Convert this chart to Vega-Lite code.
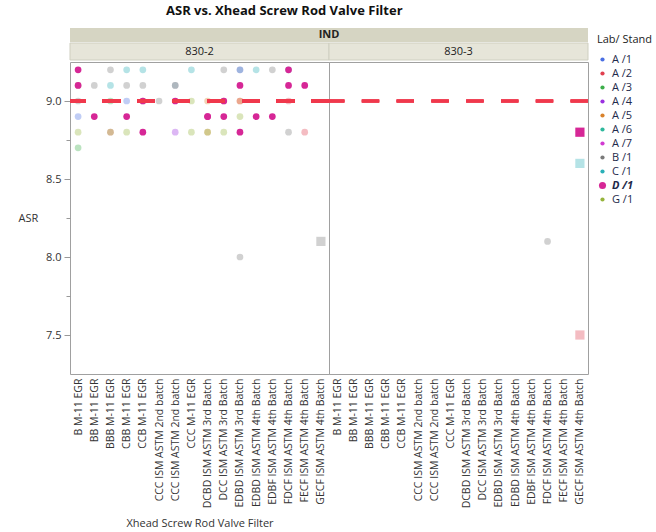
{
  "$schema": "https://vega.github.io/schema/vega-lite/v6.json",
  "padding": {"left": 17, "top": 5, "right": 2, "bottom": 5},
  "config": {
    "font": "Open Sans",
    "view": {"stroke": "#a0a0a0"},
    "axis": {"labelColor": "#333333", "titleColor": "#333333", "labelFontSize": 10.5, "titleFontSize": 11, "titleFontWeight": "normal"}
  },
  "title": {"text": "ASR vs. Xhead Screw Rod Valve Filter", "anchor": "start", "frame": "group", "dx": 96, "fontSize": 13, "fontWeight": "bold", "color": "#111111", "offset": 10},
  "datasets": {
    "asr": [
      {"Engine": "830-2", "Filter": "B  M-11 EGR", "Lab": "G /1", "ASR": 9.1},
      {"Engine": "830-2", "Filter": "B  M-11 EGR", "Lab": "B /1", "ASR": 9.0},
      {"Engine": "830-2", "Filter": "B  M-11 EGR", "Lab": "A /1", "ASR": 8.9},
      {"Engine": "830-2", "Filter": "B  M-11 EGR", "Lab": "G /1", "ASR": 8.8},
      {"Engine": "830-2", "Filter": "B  M-11 EGR", "Lab": "A /3", "ASR": 8.7},
      {"Engine": "830-2", "Filter": "BB  M-11 EGR", "Lab": "B /1", "ASR": 9.1},
      {"Engine": "830-2", "Filter": "BBB M-11 EGR", "Lab": "B /1", "ASR": 9.2},
      {"Engine": "830-2", "Filter": "BBB M-11 EGR", "Lab": "C /1", "ASR": 9.1},
      {"Engine": "830-2", "Filter": "BBB M-11 EGR", "Lab": "A /3", "ASR": 9.0},
      {"Engine": "830-2", "Filter": "BBB M-11 EGR", "Lab": "A /2", "ASR": 8.8},
      {"Engine": "830-2", "Filter": "BBB M-11 EGR", "Lab": "G /1", "ASR": 8.8},
      {"Engine": "830-2", "Filter": "CBB M-11 EGR", "Lab": "C /1", "ASR": 9.2},
      {"Engine": "830-2", "Filter": "CBB M-11 EGR", "Lab": "B /1", "ASR": 9.1},
      {"Engine": "830-2", "Filter": "CBB M-11 EGR", "Lab": "A /1", "ASR": 9.0},
      {"Engine": "830-2", "Filter": "CBB M-11 EGR", "Lab": "G /1", "ASR": 8.8},
      {"Engine": "830-2", "Filter": "CCB M-11 EGR", "Lab": "C /1", "ASR": 9.2},
      {"Engine": "830-2", "Filter": "CCB M-11 EGR", "Lab": "B /1", "ASR": 9.1},
      {"Engine": "830-2", "Filter": "CCB M-11 EGR", "Lab": "G /1", "ASR": 9.0},
      {"Engine": "830-2", "Filter": "CCC  ISM ASTM 2nd batch", "Lab": "B /1", "ASR": 9.0},
      {"Engine": "830-2", "Filter": "CCC ISM ASTM 2nd batch", "Lab": "A /2", "ASR": 9.1},
      {"Engine": "830-2", "Filter": "CCC ISM ASTM 2nd batch", "Lab": "C /1", "ASR": 9.1},
      {"Engine": "830-2", "Filter": "CCC ISM ASTM 2nd batch", "Lab": "A /4", "ASR": 8.8},
      {"Engine": "830-2", "Filter": "CCC M-11 EGR", "Lab": "C /1", "ASR": 9.2},
      {"Engine": "830-2", "Filter": "CCC M-11 EGR", "Lab": "G /1", "ASR": 9.0},
      {"Engine": "830-2", "Filter": "CCC M-11 EGR", "Lab": "G /1", "ASR": 8.8},
      {"Engine": "830-2", "Filter": "DCBD ISM ASTM 3rd Batch", "Lab": "A /5", "ASR": 9.0},
      {"Engine": "830-2", "Filter": "DCBD ISM ASTM 3rd Batch", "Lab": "A /5", "ASR": 8.8},
      {"Engine": "830-2", "Filter": "DCBD ISM ASTM 3rd Batch", "Lab": "G /1", "ASR": 8.8},
      {"Engine": "830-2", "Filter": "DCC ISM ASTM 3rd Batch", "Lab": "B /1", "ASR": 9.2},
      {"Engine": "830-2", "Filter": "DCC ISM ASTM 3rd Batch", "Lab": "A /5", "ASR": 9.0},
      {"Engine": "830-2", "Filter": "DCC ISM ASTM 3rd Batch", "Lab": "G /1", "ASR": 8.8},
      {"Engine": "830-2", "Filter": "EDBD ISM ASTM 3rd Batch", "Lab": "A /4", "ASR": 9.2},
      {"Engine": "830-2", "Filter": "EDBD ISM ASTM 3rd Batch", "Lab": "C /1", "ASR": 9.2},
      {"Engine": "830-2", "Filter": "EDBD ISM ASTM 3rd Batch", "Lab": "A /2", "ASR": 9.0},
      {"Engine": "830-2", "Filter": "EDBD ISM ASTM 3rd Batch", "Lab": "A /5", "ASR": 9.0},
      {"Engine": "830-2", "Filter": "EDBD ISM ASTM 3rd Batch", "Lab": "G /1", "ASR": 8.9},
      {"Engine": "830-2", "Filter": "EDBD ISM ASTM 3rd Batch", "Lab": "B /1", "ASR": 8.0},
      {"Engine": "830-2", "Filter": "EDBD ISM ASTM 4th Batch", "Lab": "C /1", "ASR": 9.2},
      {"Engine": "830-2", "Filter": "EDBF ISM ASTM 4th Batch", "Lab": "B /1", "ASR": 9.2},
      {"Engine": "830-2", "Filter": "FDCF ISM ASTM 4th Batch", "Lab": "C /1", "ASR": 9.2},
      {"Engine": "830-2", "Filter": "FDCF ISM ASTM 4th Batch", "Lab": "A /2", "ASR": 9.0},
      {"Engine": "830-2", "Filter": "FDCF ISM ASTM 4th Batch", "Lab": "B /1", "ASR": 8.8},
      {"Engine": "830-2", "Filter": "FECF ISM ASTM 4th Batch", "Lab": "A /2", "ASR": 8.8},
      {"Engine": "830-2", "Filter": "GECF ISM ASTM 4th Batch", "Lab": "B /1", "ASR": 8.1},
      {"Engine": "830-3", "Filter": "FDCF ISM ASTM 4th Batch", "Lab": "B /1", "ASR": 8.1},
      {"Engine": "830-3", "Filter": "GECF ISM ASTM 4th Batch", "Lab": "C /1", "ASR": 8.6},
      {"Engine": "830-3", "Filter": "GECF ISM ASTM 4th Batch", "Lab": "A /2", "ASR": 7.5},
      {"Engine": "830-2", "Filter": "B  M-11 EGR", "Lab": "D /1", "ASR": 9.2},
      {"Engine": "830-2", "Filter": "B  M-11 EGR", "Lab": "D /1", "ASR": 9.1},
      {"Engine": "830-2", "Filter": "BB  M-11 EGR", "Lab": "D /1", "ASR": 8.9},
      {"Engine": "830-2", "Filter": "CBB M-11 EGR", "Lab": "D /1", "ASR": 8.9},
      {"Engine": "830-2", "Filter": "CCB M-11 EGR", "Lab": "D /1", "ASR": 9.0},
      {"Engine": "830-2", "Filter": "CCB M-11 EGR", "Lab": "D /1", "ASR": 8.8},
      {"Engine": "830-2", "Filter": "CCC ISM ASTM 2nd batch", "Lab": "D /1", "ASR": 9.0},
      {"Engine": "830-2", "Filter": "DCBD ISM ASTM 3rd Batch", "Lab": "D /1", "ASR": 8.9},
      {"Engine": "830-2", "Filter": "DCBD ISM ASTM 3rd Batch", "Lab": "D /1", "ASR": 8.9},
      {"Engine": "830-2", "Filter": "DCC ISM ASTM 3rd Batch", "Lab": "D /1", "ASR": 9.0},
      {"Engine": "830-2", "Filter": "DCC ISM ASTM 3rd Batch", "Lab": "D /1", "ASR": 8.9},
      {"Engine": "830-2", "Filter": "EDBD ISM ASTM 3rd Batch", "Lab": "D /1", "ASR": 9.1},
      {"Engine": "830-2", "Filter": "EDBD ISM ASTM 3rd Batch", "Lab": "D /1", "ASR": 8.8},
      {"Engine": "830-2", "Filter": "EDBD ISM ASTM 4th Batch", "Lab": "D /1", "ASR": 8.9},
      {"Engine": "830-2", "Filter": "EDBF ISM ASTM 4th Batch", "Lab": "D /1", "ASR": 8.9},
      {"Engine": "830-2", "Filter": "FDCF ISM ASTM 4th Batch", "Lab": "D /1", "ASR": 9.2},
      {"Engine": "830-2", "Filter": "FDCF ISM ASTM 4th Batch", "Lab": "D /1", "ASR": 9.1},
      {"Engine": "830-2", "Filter": "FECF ISM ASTM 4th Batch", "Lab": "D /1", "ASR": 9.1},
      {"Engine": "830-3", "Filter": "GECF ISM ASTM 4th Batch", "Lab": "D /1", "ASR": 8.8}
    ]
  },
  "vconcat": [
    {
      "width": 518, "height": 14,
      "view": {"stroke": null},
      "data": {"values": [{"Group": "IND"}]},
      "layer": [
        {"mark": {"type": "rect", "fill": "#d6d5c3"}, "encoding": {}},
        {"mark": {"type": "text", "fontWeight": "bold", "fontSize": 11, "color": "#222222"}, "encoding": {"text": {"field": "Group"}}}
      ]
    },
    {
      "width": 518, "height": 17,
      "view": {"stroke": null},
      "data": {"values": [{"Engine": "830-2"}, {"Engine": "830-3"}]},
      "encoding": {"x": {"field": "Engine", "type": "nominal", "axis": null, "scale": {"paddingInner": 0, "paddingOuter": 0}}},
      "layer": [
        {"mark": {"type": "rect", "fill": "#e6e5d9", "stroke": "#cfcfc0", "strokeWidth": 1}},
        {"mark": {"type": "text", "fontSize": 11, "color": "#222222"}, "encoding": {"text": {"field": "Engine"}}}
      ]
    },
    {
      "spacing": 0,
      "bounds": "flush",
      "hconcat": [
        {
          "width": 259, "height": 312,
          "data": {"name": "asr"},
          "transform": [{"filter": "datum.Engine === '830-2'"}],
          "layer": [
            {
              "mark": {"type": "point", "filled": true},
              "encoding": {
                "x": {"field": "Filter", "type": "nominal",
                  "scale": {"domain": ["B  M-11 EGR", "BB  M-11 EGR", "BBB M-11 EGR", "CBB M-11 EGR", "CCB M-11 EGR", "CCC  ISM ASTM 2nd batch", "CCC ISM ASTM 2nd batch", "CCC M-11 EGR", "DCBD ISM ASTM 3rd Batch", "DCC ISM ASTM 3rd Batch", "EDBD ISM ASTM 3rd Batch", "EDBD ISM ASTM 4th Batch", "EDBF ISM ASTM 4th Batch", "FDCF ISM ASTM 4th Batch", "FECF ISM ASTM 4th Batch", "GECF ISM ASTM 4th Batch"]},
                  "axis": {"title": "Xhead Screw Rod Valve Filter", "labelAngle": -90, "ticks": false, "domain": false, "labelPadding": 4, "titlePadding": 10}},
                "y": {"field": "ASR", "type": "quantitative",
                  "scale": {"domain": [7.25, 9.25], "nice": false, "zero": false},
                  "axis": {"values": [7.5, 7.75, 8, 8.25, 8.5, 8.75, 9], "labelExpr": "datum.value % 0.5 === 0 ? format(datum.value, '.1f') : ''", "tickSize": {"condition": {"test": "datum.value % 0.5 !== 0", "value": 4}, "value": 6}, "tickColor": "#999999", "domain": false, "grid": false, "labelPadding": 3, "labelFontSize": 11, "title": "ASR", "titleAngle": 0, "titleAlign": "left", "titleBaseline": "middle", "titleX": -52, "titleY": 156}},
                "color": {"field": "Lab", "type": "nominal",
                  "scale": {"domain": ["A /1", "A /2", "A /3", "A /4", "A /5", "A /6", "A /7", "B /1", "C /1", "D /1", "G /1"], "range": ["#4a6fe3", "#e0404f", "#3cae4a", "#9b30e0", "#d9822b", "#2eb89c", "#d13bd1", "#7a7a7a", "#2ab0b8", "#d62796", "#96b43c"]},
                  "legend": {"title": "Lab/ Stand", "orient": "right", "offset": 1, "padding": 6, "titlePadding": 9, "titleFontSize": 11, "titleFontWeight": "normal", "titleColor": "#222222", "labelFontSize": 11, "labelColor": "#1e2a4a", "symbolType": "circle", "symbolSize": 18, "symbolOpacity": 1, "symbolStrokeWidth": 0, "rowPadding": 2,
                    "encode": {"labels": {"update": {"fontWeight": {"signal": "datum.value === 'D /1' ? 'bold' : 'normal'"}, "fontStyle": {"signal": "datum.value === 'D /1' ? 'italic' : 'normal'"}}}, "symbols": {"update": {"size": {"signal": "datum.value === 'D /1' ? 50 : 18"}, "opacity": {"value": 1}}}}}},
                "opacity": {"condition": {"test": "datum.Lab === 'D /1'", "value": 1}, "value": 0.35},
                "shape": {"condition": {"test": "indexof(datum.Filter, 'GECF') === 0", "value": "square"}, "value": "circle"},
                "size": {"condition": {"test": "indexof(datum.Filter, 'GECF') === 0", "value": 85}, "value": 45}
              }
            },
            {"mark": {"type": "rule", "color": "#f0384c", "strokeWidth": 3, "strokeDash": [17.4, 17.4]}, "encoding": {"y": {"datum": 9.0}}}
          ]
        },
        {
          "width": 259, "height": 312,
          "data": {"name": "asr"},
          "transform": [{"filter": "datum.Engine === '830-3'"}],
          "layer": [
            {
              "mark": {"type": "point", "filled": true},
              "encoding": {
                "x": {"field": "Filter", "type": "nominal",
                  "scale": {"domain": ["B  M-11 EGR", "BB  M-11 EGR", "BBB M-11 EGR", "CBB M-11 EGR", "CCB M-11 EGR", "CCC  ISM ASTM 2nd batch", "CCC ISM ASTM 2nd batch", "CCC M-11 EGR", "DCBD ISM ASTM 3rd Batch", "DCC ISM ASTM 3rd Batch", "EDBD ISM ASTM 3rd Batch", "EDBD ISM ASTM 4th Batch", "EDBF ISM ASTM 4th Batch", "FDCF ISM ASTM 4th Batch", "FECF ISM ASTM 4th Batch", "GECF ISM ASTM 4th Batch"]},
                  "axis": {"title": null, "labelAngle": -90, "ticks": false, "domain": false, "labelPadding": 4}},
                "y": {"field": "ASR", "type": "quantitative",
                  "scale": {"domain": [7.25, 9.25], "nice": false, "zero": false},
                  "axis": null},
                "color": {"field": "Lab", "type": "nominal",
                  "scale": {"domain": ["A /1", "A /2", "A /3", "A /4", "A /5", "A /6", "A /7", "B /1", "C /1", "D /1", "G /1"], "range": ["#4a6fe3", "#e0404f", "#3cae4a", "#9b30e0", "#d9822b", "#2eb89c", "#d13bd1", "#7a7a7a", "#2ab0b8", "#d62796", "#96b43c"]},
                  "legend": {"title": "Lab/ Stand", "orient": "right", "offset": 1, "padding": 6, "titlePadding": 9, "titleFontSize": 11, "titleFontWeight": "normal", "titleColor": "#222222", "labelFontSize": 11, "labelColor": "#1e2a4a", "symbolType": "circle", "symbolSize": 18, "symbolOpacity": 1, "symbolStrokeWidth": 0, "rowPadding": 2,
                    "encode": {"labels": {"update": {"fontWeight": {"signal": "datum.value === 'D /1' ? 'bold' : 'normal'"}, "fontStyle": {"signal": "datum.value === 'D /1' ? 'italic' : 'normal'"}}}, "symbols": {"update": {"size": {"signal": "datum.value === 'D /1' ? 50 : 18"}, "opacity": {"value": 1}}}}}},
                "opacity": {"condition": {"test": "datum.Lab === 'D /1'", "value": 1}, "value": 0.35},
                "shape": {"condition": {"test": "indexof(datum.Filter, 'GECF') === 0", "value": "square"}, "value": "circle"},
                "size": {"condition": {"test": "indexof(datum.Filter, 'GECF') === 0", "value": 85}, "value": 45}
              }
            },
            {"mark": {"type": "rule", "color": "#f0384c", "strokeWidth": 3, "strokeDash": [17.4, 17.4]}, "encoding": {"y": {"datum": 9.0}}}
          ]
        }
      ]
    }
  ],
  "spacing": 0
}
